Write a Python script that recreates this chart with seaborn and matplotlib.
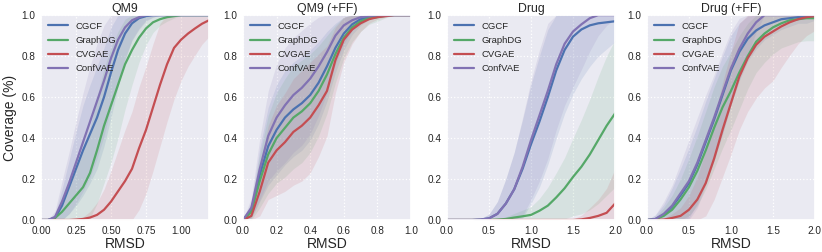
import numpy as np
import matplotlib
matplotlib.use("Agg")
import matplotlib.pyplot as plt
import seaborn as sns

# 001 : data (mean coverage, std band)
methods = ['CGCF', 'GraphDG', 'CVGAE', 'ConfVAE']
titles = ['QM9', 'QM9 (+FF)', 'Drug', 'Drug (+FF)']

x_qm9 = [0.0, 0.05, 0.1, 0.15, 0.2, 0.25, 0.3, 0.35, 0.4, 0.45, 0.5, 0.55, 0.6,
         0.65, 0.7, 0.75, 0.8, 0.85, 0.9, 0.95, 1.0, 1.05, 1.1, 1.15, 1.2]
x_qm9ff = [0.0, 0.05, 0.1, 0.15, 0.2, 0.25, 0.3, 0.35, 0.4, 0.45, 0.5, 0.55, 0.6,
           0.65, 0.7, 0.75, 0.8, 0.85, 0.9, 0.95, 1.0]
x_drug = [0.0, 0.1, 0.2, 0.3, 0.4, 0.5, 0.6, 0.7, 0.8, 0.9, 1.0, 1.1, 1.2, 1.3,
          1.4, 1.5, 1.6, 1.7, 1.8, 1.9, 2.0]

# QM9
cgcf_qm9 = [0, 0, 0.01, 0.07, 0.16, 0.25, 0.34, 0.42, 0.50, 0.60, 0.72, 0.83, 0.91,
            0.96, 0.985, 0.995, 1, 1, 1, 1, 1, 1, 1, 1, 1]
graphdg_qm9 = [0, 0, 0.01, 0.04, 0.08, 0.12, 0.16, 0.23, 0.34, 0.46, 0.56, 0.66, 0.76,
               0.83, 0.89, 0.935, 0.965, 0.98, 0.99, 0.995, 1, 1, 1, 1, 1]
cvgae_qm9 = [0, 0, 0, 0, 0, 0.002, 0.005, 0.012, 0.025, 0.05, 0.09, 0.14, 0.19,
             0.25, 0.35, 0.44, 0.55, 0.66, 0.76, 0.84, 0.88, 0.91, 0.935, 0.958, 0.975]
confvae_qm9 = [0, 0, 0.015, 0.09, 0.18, 0.28, 0.38, 0.48, 0.58, 0.68, 0.79, 0.88, 0.94,
               0.975, 0.99, 1, 1, 1, 1, 1, 1, 1, 1, 1, 1]
cgcf_qm9_sd = [0, 0, 0.02, 0.08, 0.13, 0.18, 0.22, 0.24, 0.25, 0.24, 0.22, 0.18, 0.13,
               0.08, 0.05, 0.02, 0.01, 0, 0, 0, 0, 0, 0, 0, 0]
graphdg_qm9_sd = [0, 0, 0.02, 0.06, 0.1, 0.14, 0.18, 0.22, 0.26, 0.28, 0.28, 0.26, 0.22,
                  0.17, 0.12, 0.08, 0.05, 0.03, 0.02, 0.01, 0, 0, 0, 0, 0]
cvgae_qm9_sd = [0, 0, 0, 0, 0, 0.005, 0.01, 0.03, 0.06, 0.1, 0.15, 0.2, 0.25, 0.28,
                0.3, 0.31, 0.31, 0.3, 0.28, 0.25, 0.2, 0.16, 0.13, 0.1, 0.08]
confvae_qm9_sd = [0, 0, 0.03, 0.1, 0.15, 0.2, 0.24, 0.27, 0.28, 0.27, 0.24, 0.2, 0.15,
                  0.1, 0.06, 0.03, 0.01, 0, 0, 0, 0, 0, 0, 0, 0]

# QM9 (+FF)
cgcf_qm9ff = [0, 0.05, 0.22, 0.36, 0.44, 0.50, 0.54, 0.57, 0.61, 0.67, 0.75, 0.84, 0.91,
              0.955, 0.98, 0.99, 0.997, 1, 1, 1, 1]
graphdg_qm9ff = [0, 0.04, 0.19, 0.32, 0.40, 0.45, 0.50, 0.53, 0.57, 0.63, 0.71, 0.81, 0.89,
                 0.94, 0.97, 0.985, 0.99, 0.997, 1, 1, 1]
cvgae_qm9ff = [0, 0.02, 0.14, 0.28, 0.34, 0.38, 0.43, 0.46, 0.50, 0.56, 0.63, 0.78, 0.88,
               0.93, 0.96, 0.98, 0.99, 0.995, 1, 1, 1]
confvae_qm9ff = [0, 0.06, 0.25, 0.41, 0.50, 0.56, 0.61, 0.645, 0.69, 0.75, 0.82, 0.90, 0.95,
                 0.975, 0.99, 0.995, 1, 1, 1, 1, 1]
cgcf_qm9ff_sd = [0, 0.04, 0.13, 0.19, 0.22, 0.23, 0.23, 0.23, 0.22, 0.2, 0.17, 0.12, 0.08,
                 0.05, 0.03, 0.01, 0.005, 0, 0, 0, 0]
graphdg_qm9ff_sd = [0, 0.04, 0.13, 0.19, 0.22, 0.24, 0.25, 0.25, 0.24, 0.22, 0.19, 0.14, 0.1,
                    0.07, 0.05, 0.03, 0.02, 0.01, 0, 0, 0]
cvgae_qm9ff_sd = [0, 0.03, 0.12, 0.18, 0.22, 0.24, 0.26, 0.27, 0.27, 0.25, 0.22, 0.16, 0.11,
                  0.07, 0.04, 0.02, 0.01, 0.005, 0, 0, 0]
confvae_qm9ff_sd = [0, 0.05, 0.15, 0.22, 0.26, 0.28, 0.28, 0.28, 0.27, 0.24, 0.2, 0.14, 0.09,
                    0.05, 0.03, 0.01, 0, 0, 0, 0, 0]

# Drug
cgcf_drug = [0, 0, 0, 0, 0.002, 0.008, 0.03, 0.08, 0.15, 0.25, 0.37, 0.48, 0.60, 0.73,
             0.83, 0.895, 0.93, 0.95, 0.96, 0.965, 0.97]
graphdg_drug = [0, 0, 0, 0, 0, 0, 0.002, 0.005, 0.012, 0.018, 0.025, 0.045, 0.07, 0.11,
                0.155, 0.21, 0.26, 0.32, 0.39, 0.46, 0.52]
cvgae_drug = [0, 0, 0, 0, 0, 0, 0, 0, 0, 0, 0, 0, 0, 0, 0, 0, 0.003, 0.01, 0.02, 0.035, 0.08]
confvae_drug = [0, 0, 0, 0, 0.002, 0.008, 0.03, 0.08, 0.15, 0.26, 0.39, 0.51, 0.63, 0.76,
                0.86, 0.92, 0.955, 0.985, 1, 1, 1]
cgcf_drug_sd = [0, 0, 0, 0, 0.005, 0.02, 0.06, 0.12, 0.18, 0.24, 0.29, 0.32, 0.33, 0.33,
                0.31, 0.28, 0.24, 0.2, 0.16, 0.13, 0.1]
graphdg_drug_sd = [0, 0, 0, 0, 0, 0, 0.003, 0.01, 0.02, 0.03, 0.04, 0.06, 0.09, 0.12,
                   0.15, 0.19, 0.23, 0.27, 0.31, 0.34, 0.36]
cvgae_drug_sd = [0, 0, 0, 0, 0, 0, 0, 0, 0, 0, 0, 0, 0, 0, 0, 0.005, 0.02, 0.05, 0.08, 0.12, 0.17]
confvae_drug_sd = [0, 0, 0, 0, 0.005, 0.02, 0.06, 0.12, 0.18, 0.24, 0.29, 0.32, 0.33, 0.32,
                   0.3, 0.27, 0.22, 0.16, 0.1, 0.05, 0.02]

# Drug (+FF)
cgcf_drugff = [0, 0.004, 0.025, 0.065, 0.12, 0.18, 0.27, 0.38, 0.49, 0.61, 0.73, 0.82,
               0.885, 0.925, 0.95, 0.965, 0.98, 0.985, 0.99, 0.99, 0.995]
graphdg_drugff = [0, 0.003, 0.02, 0.05, 0.10, 0.16, 0.24, 0.34, 0.45, 0.55, 0.63, 0.72,
                  0.80, 0.87, 0.91, 0.94, 0.96, 0.975, 0.98, 0.985, 0.985]
cvgae_drugff = [0, 0, 0.002, 0.01, 0.02, 0.05, 0.10, 0.18, 0.30, 0.44, 0.57, 0.70,
                0.79, 0.855, 0.895, 0.92, 0.945, 0.965, 0.98, 0.99, 0.995]
confvae_drugff = [0, 0.005, 0.03, 0.07, 0.13, 0.19, 0.28, 0.39, 0.50, 0.62, 0.74, 0.835,
                  0.91, 0.965, 1, 1, 1, 1, 1, 1, 1]
cgcf_drugff_sd = [0, 0.02, 0.05, 0.09, 0.13, 0.17, 0.19, 0.2, 0.2, 0.19, 0.17, 0.14, 0.11,
                  0.09, 0.07, 0.06, 0.05, 0.04, 0.03, 0.03, 0.02]
graphdg_drugff_sd = [0, 0.01, 0.04, 0.07, 0.1, 0.14, 0.17, 0.19, 0.2, 0.2, 0.19, 0.18, 0.16,
                     0.15, 0.14, 0.13, 0.12, 0.12, 0.11, 0.11, 0.11]
cvgae_drugff_sd = [0, 0, 0.005, 0.02, 0.04, 0.07, 0.11, 0.16, 0.2, 0.23, 0.25, 0.26, 0.26,
                   0.26, 0.25, 0.24, 0.2, 0.16, 0.12, 0.09, 0.07]
confvae_drugff_sd = [0, 0.02, 0.06, 0.1, 0.15, 0.2, 0.22, 0.22, 0.21, 0.2, 0.18, 0.15, 0.1,
                     0.05, 0, 0, 0, 0, 0, 0, 0]

panels = [
    (x_qm9, [cgcf_qm9, graphdg_qm9, cvgae_qm9, confvae_qm9],
     [cgcf_qm9_sd, graphdg_qm9_sd, cvgae_qm9_sd, confvae_qm9_sd]),
    (x_qm9ff, [cgcf_qm9ff, graphdg_qm9ff, cvgae_qm9ff, confvae_qm9ff],
     [cgcf_qm9ff_sd, graphdg_qm9ff_sd, cvgae_qm9ff_sd, confvae_qm9ff_sd]),
    (x_drug, [cgcf_drug, graphdg_drug, cvgae_drug, confvae_drug],
     [cgcf_drug_sd, graphdg_drug_sd, cvgae_drug_sd, confvae_drug_sd]),
    (x_drug, [cgcf_drugff, graphdg_drugff, cvgae_drugff, confvae_drugff],
     [cgcf_drugff_sd, graphdg_drugff_sd, cvgae_drugff_sd, confvae_drugff_sd]),
]
xlims = [1.2, 1.0, 2.0, 2.0]
xticks = [[0, 0.25, 0.5, 0.75, 1.0], [0, 0.2, 0.4, 0.6, 0.8, 1.0],
          [0, 0.5, 1.0, 1.5, 2.0], [0, 0.5, 1.0, 1.5, 2.0]]
xticklabels = [['0.00', '0.25', '0.50', '0.75', '1.00'],
               ['0.0', '0.2', '0.4', '0.6', '0.8', '1.0'],
               ['0.0', '0.5', '1.0', '1.5', '2.0'],
               ['0.0', '0.5', '1.0', '1.5', '2.0']]

# 002 : style
sns.set_theme(style='darkgrid', rc={'grid.linestyle': ':', 'grid.linewidth': 0.9})
plt.rcParams['font.family'] = ['Liberation Sans', 'DejaVu Sans']
deep = sns.color_palette('deep')
colors = [deep[0], deep[2], deep[3], deep[4]]

fig = plt.figure(figsize=(8.22, 2.52), dpi=100)
lefts = [0.0499, 0.2956, 0.5438, 0.787]

for i, (xs, means, sds) in enumerate(panels):
    ax = fig.add_axes([lefts[i], 0.127, 0.2044, 0.813])
    xs = np.array(xs)
    for name, m, s, c in zip(methods, means, sds, colors):
        m = np.array(m)
        s = np.array(s)
        ax.fill_between(xs, np.clip(m - s, 0, 1), np.clip(m + s, 0, 1),
                        color=c, alpha=0.13, linewidth=0)
        sns.lineplot(x=xs, y=m, color=c, label=name, linewidth=1.6, ax=ax)
    ax.set_xlim(0, xlims[i])
    ax.set_ylim(0, 1.0)
    ax.set_xticks(xticks[i])
    ax.set_xticklabels(xticklabels[i])
    ax.set_yticks([0, 0.2, 0.4, 0.6, 0.8, 1.0])
    ax.set_yticklabels(['0.0', '0.2', '0.4', '0.6', '0.8', '1.0'])
    ax.tick_params(labelsize=7.2, length=0, pad=4)
    ax.set_title(titles[i], fontsize=8.8, pad=2)
    ax.set_xlabel('RMSD', fontsize=10, labelpad=1)
    if i == 0:
        ax.set_ylabel('Coverage (%)', fontsize=10, labelpad=3)
    ax.legend(loc='upper left', fontsize=6.8, frameon=False,
              handlelength=2.2, borderaxespad=0.3, labelspacing=0.55)

fig.savefig('out.png', dpi=100)
